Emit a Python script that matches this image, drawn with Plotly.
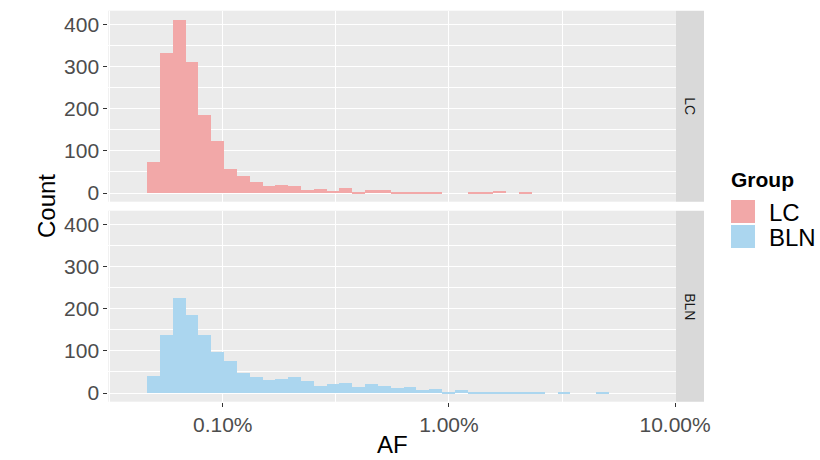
import plotly.graph_objects as go

# ---- data (histogram of log10(AF), pre-binned) ----
bin_start_log10 = -3.333
bin_width_log10 = 0.0567
groups = ["LC", "BLN"]
lc_counts = [74, 333, 412, 311, 186, 125, 58, 41, 28, 18, 20, 18, 8, 11, 6, 13,
             4, 9, 9, 4, 4, 4, 4, 0, 0, 4, 4, 6, 0, 4, 0, 0, 0, 0, 0, 0]
bln_counts = [42, 139, 226, 185, 139, 97, 76, 48, 38, 31, 35, 38, 30, 17, 22, 25,
              14, 23, 17, 12, 14, 7, 10, 3, 9, 2, 2, 2, 2, 2, 2, 0, 2, 0, 0, 2]
x_tick_vals = [-3, -2, -1]
x_tick_text = ["0.10%", "1.00%", "10.00%"]
y_tick_vals = [0, 100, 200, 300, 400]

W, H = 820, 460
def px(x): return x / W
def py(y): return 1 - y / H

centers = [bin_start_log10 + (i + 0.5) * bin_width_log10 for i in range(len(lc_counts))]

col_lc = "#F2A8A8"
col_bln = "#ABD6EF"
font = "Liberation Sans, Arial, sans-serif"

fig = go.Figure()
fig.add_trace(go.Bar(x=centers, y=lc_counts, width=bin_width_log10, name="LC",
                     marker=dict(color=col_lc, line=dict(width=0)),
                     xaxis="x", yaxis="y", showlegend=False))
fig.add_trace(go.Bar(x=centers, y=bln_counts, width=bin_width_log10, name="BLN",
                     marker=dict(color=col_bln, line=dict(width=0)),
                     xaxis="x2", yaxis="y2", showlegend=False))

xr = [-3.506, -0.996]
yr = [-20.6, 432.6]
xdom = [px(108.3), px(676)]

common_x = dict(range=xr, domain=xdom, showgrid=True, gridcolor="white", gridwidth=1.1,
                zeroline=False, tickvals=x_tick_vals, ticktext=x_tick_text,
                minor=dict(tickvals=[-3.5, -2.5, -1.5], showgrid=True, gridcolor="white",
                           gridwidth=0.55, ticks=""),
                showline=False, fixedrange=True, automargin=False)
common_y = dict(range=yr, showgrid=True, gridcolor="white", gridwidth=1.1, zeroline=False,
                tickvals=y_tick_vals, ticks="outside", ticklen=4, tickcolor="#333333",
                tickwidth=1.1,
                tickfont=dict(family=font, size=21, color="#4D4D4D"),
                minor=dict(tickvals=[50, 150, 250, 350], showgrid=True, gridcolor="white",
                           gridwidth=0.55, ticks=""),
                showline=False, fixedrange=True, automargin=False)

fig.update_layout(
    width=W, height=H, autosize=False,
    margin=dict(l=0, r=0, t=0, b=0, pad=0),
    paper_bgcolor="white",
    plot_bgcolor="#EBEBEB",
    bargap=0,
    xaxis=dict(common_x, anchor="y", showticklabels=False, ticks=""),
    yaxis=dict(common_y, domain=[py(201.7), py(10.7)], anchor="x"),
    xaxis2=dict(common_x, anchor="y2", showticklabels=True, ticks="outside", ticklen=4,
                tickcolor="#333333", tickwidth=1.1,
                tickfont=dict(family=font, size=21, color="#4D4D4D")),
    yaxis2=dict(common_y, domain=[py(401.7), py(210.7)], anchor="x2"),
    font=dict(family=font),
    showlegend=False,
)

shapes = []
annotations = []
# facet strips
for (y0, y1, lab) in [(10.7, 201.7, "LC"), (210.7, 401.7, "BLN")]:
    shapes.append(dict(type="rect", xref="paper", yref="paper",
                       x0=px(676), x1=px(704), y0=py(y1), y1=py(y0),
                       fillcolor="#D9D9D9", line=dict(width=0), layer="below"))
    annotations.append(dict(text=lab, xref="paper", yref="paper", x=px(690),
                            y=py((y0 + y1) / 2), showarrow=False, textangle=90,
                            font=dict(family=font, size=14, color="#1A1A1A"),
                            xanchor="center", yanchor="middle"))
# axis titles
annotations.append(dict(text="Count", xref="paper", yref="paper", x=px(46), y=py(206),
                        showarrow=False, textangle=-90,
                        font=dict(family=font, size=24, color="black"),
                        xanchor="center", yanchor="middle"))
annotations.append(dict(text="AF", xref="paper", yref="paper", x=px(392), y=py(444),
                        showarrow=False, font=dict(family=font, size=24, color="black"),
                        xanchor="center", yanchor="middle"))
# legend
annotations.append(dict(text="<b>Group</b>", xref="paper", yref="paper", x=px(729),
                        y=py(179), showarrow=False,
                        font=dict(family=font, size=21, color="black"),
                        xanchor="left", yanchor="middle"))
for (ytop, lab, col) in [(200, "LC", col_lc), (225, "BLN", col_bln)]:
    shapes.append(dict(type="rect", xref="paper", yref="paper",
                       x0=px(731), x1=px(755), y0=py(ytop + 23), y1=py(ytop),
                       fillcolor=col, line=dict(width=0)))
    annotations.append(dict(text=lab, xref="paper", yref="paper", x=px(767),
                            y=py(ytop + 12), showarrow=False,
                            font=dict(family=font, size=24, color="black"),
                            xanchor="left", yanchor="middle"))

fig.update_layout(shapes=shapes, annotations=annotations)
fig.write_html("out.html", config={"responsive": False, "displayModeBar": False})
